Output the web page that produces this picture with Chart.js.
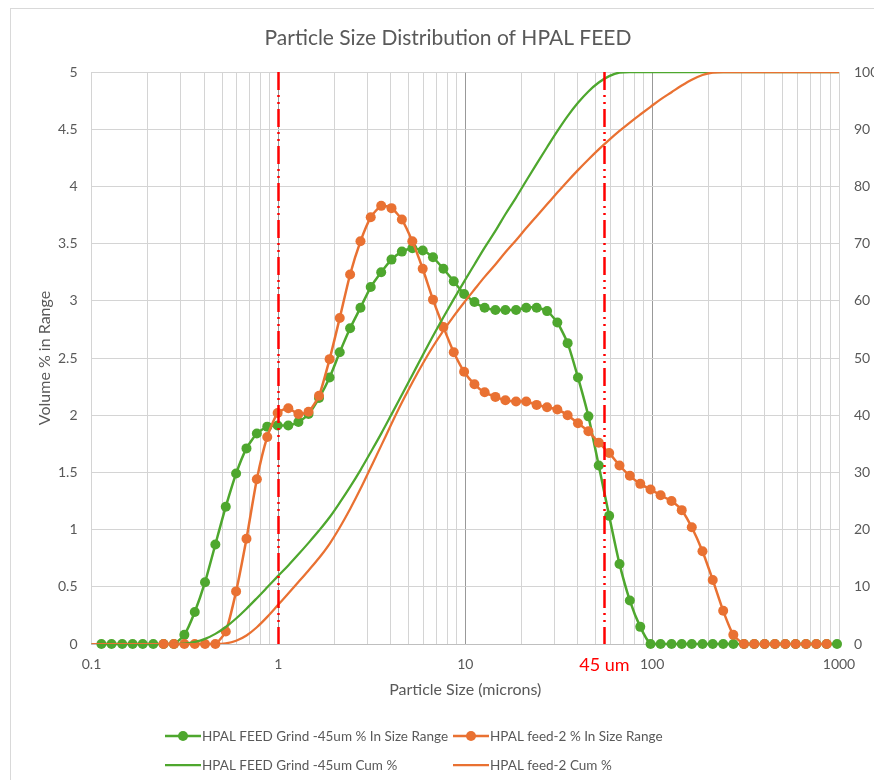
<!DOCTYPE html>
<html>
<head>
<meta charset="utf-8">
<title>Particle Size Distribution of HPAL FEED</title>
<script src="https://cdn.jsdelivr.net/npm/chart.js@4.4.1/dist/chart.umd.min.js"></script>
<style>
  html, body { margin: 0; padding: 0; background: #fff; }
  #wrap { width: 874px; height: 780px; position: relative; }
</style>
</head>
<body>
<div id="wrap"><canvas id="psdChart" width="874" height="780"></canvas></div>
<script>
// =========================
//   PSD data (microns / %)
// =========================

// laser sizer bin sizes, microns
const binSizes = [
  0.0995, 0.113, 0.128, 0.146, 0.166, 0.188, 0.214, 0.243, 0.276, 0.314,
  0.357, 0.405, 0.46, 0.523, 0.594, 0.675, 0.767, 0.872, 0.991,
  1.13, 1.28, 1.45, 1.65, 1.88, 2.13, 2.42, 2.75, 3.12, 3.55,
  4.03, 4.58, 5.21, 5.92, 6.72, 7.64, 8.68, 9.86,
  11.2, 12.7, 14.5, 16.4, 18.7, 21.2, 24.1, 27.4, 31.1, 35.3,
  40.1, 45.6, 51.8, 58.9, 66.9, 76, 86.4, 98.1,
  111, 127, 144, 163, 186, 211, 240, 272, 310, 352,
  400, 454, 516, 586, 666, 756, 859, 976, 1110
];

// HPAL FEED Grind -45um, % in size range
const grindPct = [
  null, 0, 0, 0, 0, 0, 0, 0, 0, 0.08,
  0.28, 0.54, 0.87, 1.20, 1.49, 1.71, 1.84, 1.90, 1.91,
  1.91, 1.94, 2.01, 2.15, 2.33, 2.55, 2.76, 2.94, 3.12, 3.25,
  3.36, 3.43, 3.46, 3.44, 3.38, 3.28, 3.17, 3.06,
  2.99, 2.94, 2.92, 2.92, 2.92, 2.94, 2.94, 2.91, 2.81, 2.63,
  2.33, 1.99, 1.56, 1.12, 0.70, 0.38, 0.15, 0,
  0, 0, 0, 0, 0, 0, 0, 0, 0, 0,
  0, 0, 0, 0, 0, 0, 0, 0, null
];

// HPAL feed-2, % in size range
const feedPct = [
  null, null, null, null, null, null, null, 0, 0, 0,
  0, 0, 0, 0.11, 0.46, 0.92, 1.44, 1.81, 2.02,
  2.06, 2.01, 2.03, 2.17, 2.49, 2.85, 3.23, 3.52, 3.73, 3.83,
  3.81, 3.71, 3.52, 3.28, 3.01, 2.77, 2.55, 2.38,
  2.27, 2.20, 2.16, 2.13, 2.12, 2.12, 2.09, 2.07, 2.05, 2.00,
  1.93, 1.86, 1.76, 1.67, 1.56, 1.47, 1.40, 1.35,
  1.30, 1.25, 1.17, 1.02, 0.81, 0.56, 0.29, 0.08, 0, 0,
  0, 0, 0, 0, 0, 0, 0, null, null
];

// cumulative passing, %
const grindCum = [
  0, 0, 0, 0, 0, 0, 0, 0, 0, 0.08,
  0.36, 0.90, 1.77, 2.97, 4.46, 6.17, 8.01, 9.91, 11.82,
  13.73, 15.67, 17.68, 19.83, 22.16, 24.71, 27.47, 30.41, 33.53, 36.78,
  40.14, 43.57, 47.03, 50.47, 53.85, 57.13, 60.30, 63.36,
  66.35, 69.29, 72.21, 75.13, 78.05, 80.99, 83.93, 86.84, 89.65, 92.28,
  94.61, 96.60, 98.16, 99.28, 99.90, 100, 100, 100,
  100, 100, 100, 100, 100, 100, 100, 100, 100, 100,
  100, 100, 100, 100, 100, 100, 100, 100, 100
];

const feedCum = [
  0, 0, 0, 0, 0, 0, 0, 0, 0, 0,
  0, 0, 0, 0.11, 0.57, 1.49, 2.93, 4.74, 6.76,
  8.82, 10.83, 12.86, 15.03, 17.52, 20.37, 23.60, 27.12, 30.85, 34.68,
  38.49, 42.20, 45.72, 49.00, 52.01, 54.78, 57.33, 59.71,
  61.98, 64.18, 66.34, 68.47, 70.59, 72.71, 74.80, 76.87, 78.92, 80.92,
  82.85, 84.71, 86.47, 88.14, 89.70, 91.17, 92.57, 93.92,
  95.22, 96.47, 97.64, 98.66, 99.47, 99.90, 100, 100, 100, 100,
  100, 100, 100, 100, 100, 100, 100, 100, 100
];

const seriesNames = [
  'HPAL FEED Grind -45um % In Size Range',
  'HPAL feed-2 % In Size Range',
  'HPAL FEED Grind -45um Cum %',
  'HPAL feed-2 Cum %'
];

// axis ticks
const xTickLabels = [0.1, 1, 10, 100, 1000];
const yLeftTicks = [0, 0.5, 1, 1.5, 2, 2.5, 3, 3.5, 4, 4.5, 5];
const yRightTicks = [0, 10, 20, 30, 40, 50, 60, 70, 80, 90, 100];

// cut sizes marked with red lines (value, caption)
const cutLines = [
  { size: 1, caption: '' },
  { size: 55, caption: '45 um' }
];

// =========================
//   helpers / style
// =========================
const GREEN = '#4ea72e';
const ORANGE = '#e97132';
const TEXT = '#595959';
const FONT = "Lato, 'Noto Sans', sans-serif";

const toPoints = vals => binSizes
  .map((x, i) => ({ x, y: vals[i] }))
  .filter(p => p.y !== null);

// grid lines at 1..9 of every decade
const gridValues = [];
for (let e = -1; e < 3; e++) {
  for (let k = 1; k < 10; k++) gridValues.push(Number((k * Math.pow(10, e)).toPrecision(3)));
}
gridValues.push(1000);

// =========================
//   extra drawing
// =========================
const decor = {
  id: 'decor',
  beforeDraw(chart) {
    const { ctx } = chart;
    ctx.save();
    ctx.fillStyle = '#fff';
    ctx.fillRect(0, 0, chart.width, chart.height);
    ctx.strokeStyle = '#d9d9d9';
    ctx.lineWidth = 1;
    ctx.strokeRect(10.5, 8.5, chart.width + 20, chart.height + 20);

    ctx.fillStyle = TEXT;
    ctx.font = "21px " + FONT;
    ctx.textAlign = 'center';
    ctx.textBaseline = 'middle';
    ctx.fillText('Particle Size Distribution of HPAL FEED', 448, 38);
    ctx.restore();
  },
  afterDatasetsDraw(chart) {
    const { ctx, chartArea, scales } = chart;
    ctx.save();
    ctx.strokeStyle = '#ff0000';
    ctx.lineWidth = 2.5;
    ctx.setLineDash([18, 5, 2, 5, 2, 5]);
    cutLines.forEach(c => {
      const px = Math.round(scales.x.getPixelForValue(c.size)) + 0.5;
      ctx.beginPath();
      ctx.moveTo(px, chartArea.top);
      ctx.lineTo(px, chartArea.bottom);
      ctx.stroke();
      if (c.caption) {
        ctx.fillStyle = '#ff0000';
        ctx.font = "18px " + FONT;
        ctx.textAlign = 'center';
        ctx.textBaseline = 'middle';
        ctx.fillText(c.caption, px, 665);
      }
    });
    ctx.restore();
  },
  afterDraw(chart) {
    // 2 x 2 legend under the axis title
    const { ctx } = chart;
    const cols = [165, 453];
    const rows = [736, 765];
    ctx.save();
    ctx.font = "13.5px " + FONT;
    ctx.textBaseline = 'middle';
    ctx.textAlign = 'left';
    chart.data.datasets.forEach((ds, i) => {
      const x = cols[i % 2];
      const y = rows[Math.floor(i / 2)];
      ctx.strokeStyle = ds.borderColor;
      ctx.lineWidth = ds.borderWidth;
      ctx.setLineDash([]);
      ctx.beginPath();
      ctx.moveTo(x, y);
      ctx.lineTo(x + 36, y);
      ctx.stroke();
      if (ds.pointRadius > 0) {
        ctx.fillStyle = ds.borderColor;
        ctx.beginPath();
        ctx.arc(x + 18, y, ds.pointRadius, 0, Math.PI * 2);
        ctx.fill();
      }
      ctx.fillStyle = TEXT;
      ctx.fillText(ds.label, x + 37, y + 1);
    });
    ctx.restore();
  }
};

// =========================
//   chart
// =========================
new Chart(document.getElementById('psdChart'), {
  type: 'line',
  data: {
    datasets: [
      {
        label: seriesNames[0],
        data: toPoints(grindPct),
        yAxisID: 'y',
        borderColor: GREEN,
        backgroundColor: GREEN,
        borderWidth: 2.5,
        pointRadius: 5,
        pointBorderWidth: 0,
        tension: 0.2,
        clip: false,
        order: 4
      },
      {
        label: seriesNames[1],
        data: toPoints(feedPct),
        yAxisID: 'y',
        borderColor: ORANGE,
        backgroundColor: ORANGE,
        borderWidth: 2.5,
        pointRadius: 5,
        pointBorderWidth: 0,
        tension: 0.2,
        clip: false,
        order: 3
      },
      {
        label: seriesNames[2],
        data: toPoints(grindCum),
        yAxisID: 'y1',
        borderColor: GREEN,
        backgroundColor: GREEN,
        borderWidth: 2.25,
        pointRadius: 0,
        cubicInterpolationMode: 'monotone',
        order: 2
      },
      {
        label: seriesNames[3],
        data: toPoints(feedCum),
        yAxisID: 'y1',
        borderColor: ORANGE,
        backgroundColor: ORANGE,
        borderWidth: 2.25,
        pointRadius: 0,
        cubicInterpolationMode: 'monotone',
        order: 1
      }
    ]
  },
  options: {
    responsive: false,
    animation: false,
    layout: { padding: { left: 10, right: 0, top: 72, bottom: 76 } },
    plugins: {
      legend: { display: false },
      title: { display: false },
      tooltip: { enabled: false }
    },
    scales: {
      x: {
        type: 'logarithmic',
        min: 0.1,
        max: 1000,
        afterBuildTicks: s => { s.ticks = gridValues.map(v => ({ value: v })); },
        afterFit: s => { s.height = 60; },
        ticks: {
          autoSkip: false,
          maxRotation: 0,
          padding: 12,
          color: TEXT,
          font: { family: FONT, size: 14 },
          callback: v => xTickLabels.includes(v) ? String(v) : ''
        },
        grid: {
          drawTicks: false,
          lineWidth: 1,
          color: c => [1, 10, 100].includes(c.tick && c.tick.value) ? '#999999' : '#d4d4d4'
        },
        border: { color: '#bfbfbf' },
        title: {
          display: true,
          text: 'Particle Size (microns)',
          color: TEXT,
          font: { family: FONT, size: 16 },
          padding: { top: 0, bottom: 5 }
        }
      },
      y: {
        position: 'left',
        min: 0,
        max: 5,
        afterBuildTicks: s => { s.ticks = yLeftTicks.map(v => ({ value: v })); },
        afterFit: s => { s.width = 81.5; },
        ticks: {
          padding: 14,
          color: TEXT,
          font: { family: FONT, size: 14 },
          callback: v => String(v)
        },
        grid: { drawTicks: false, color: '#d4d4d4' },
        border: { display: false },
        title: {
          display: true,
          text: 'Volume % in Range',
          color: TEXT,
          font: { family: FONT, size: 16 },
          padding: { top: 25, bottom: 0 }
        }
      },
      y1: {
        position: 'right',
        min: 0,
        max: 100,
        afterBuildTicks: s => { s.ticks = yRightTicks.map(v => ({ value: v })); },
        afterFit: s => { s.width = 35; },
        ticks: {
          padding: 15,
          color: TEXT,
          font: { family: FONT, size: 14 },
          callback: v => String(v)
        },
        grid: { display: false, drawTicks: false },
        border: { display: false }
      }
    }
  },
  plugins: [decor]
});
</script>
</body>
</html>
